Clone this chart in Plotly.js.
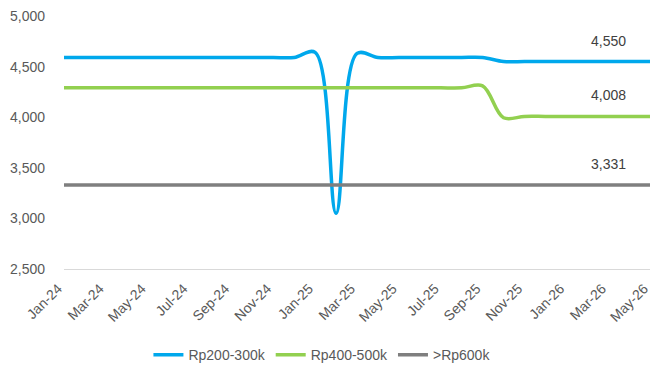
<!DOCTYPE html>
<html>
<head>
<meta charset="utf-8">
<script src="https://cdn.plot.ly/plotly-3.0.1.min.js"></script>
<style>html,body{margin:0;padding:0;background:#fff;}</style>
</head>
<body>
<div id="chart" style="width:651px;height:365px;"></div>
<script>
const months = ["Jan-24","Feb-24","Mar-24","Apr-24","May-24","Jun-24","Jul-24","Aug-24","Sep-24","Oct-24","Nov-24","Dec-24",
  "Jan-25","Feb-25","Mar-25","Apr-25","May-25","Jun-25","Jul-25","Aug-25","Sep-25","Oct-25","Nov-25","Dec-25",
  "Jan-26","Feb-26","Mar-26","Apr-26","May-26"];
const tickLabels = ["Jan-24","Mar-24","May-24","Jul-24","Sep-24","Nov-24","Jan-25","Mar-25","May-25","Jul-25","Sep-25","Nov-25","Jan-26","Mar-26","May-26"];
const rp200_300k = [4590,4590,4590,4590,4590,4590,4590,4590,4590,4590,4590,4590,
  4640,3050,4630,4590,4590,4590,4590,4590,4590,4550,4550,4550,
  4550,4550,4550,4550,4550];
const rp400_500k = [4290,4290,4290,4290,4290,4290,4290,4290,4290,4290,4290,4290,
  4290,4290,4290,4290,4290,4290,4290,4290,4310,3995,4008,4008,
  4008,4008,4008,4008,4008];
const rp600k = [3331,3331,3331,3331,3331,3331,3331,3331,3331,3331,3331,3331,
  3331,3331,3331,3331,3331,3331,3331,3331,3331,3331,3331,3331,
  3331,3331,3331,3331,3331];
const seriesNames = ["Rp200-300k","Rp400-500k",">Rp600k"];
const labelMonth = "Mar-26";
const labelTexts = ["4,550","4,008","3,331"];

const colors = ["#00A8EC","#92D050","#7F7F7F"];
const allSeries = [rp200_300k, rp400_500k, rp600k];

const traces = allSeries.map((vals, i) => ({
  x: months, y: vals, type: "scatter", mode: "lines", name: seriesNames[i],
  line: {color: colors[i], width: 3.5, shape: "spline", smoothing: 1}
}));

const li = months.indexOf(labelMonth);
const annotations = allSeries.map((vals, i) => ({
  x: labelMonth, y: vals[li], xref: "x", yref: "y", text: labelTexts[i],
  showarrow: false, yshift: 21, font: {size: 14, color: "#404040"}
}));

const layout = {
  width: 651, height: 365,
  margin: {l: 64, r: 1, t: 16, b: 96},
  paper_bgcolor: "#fff", plot_bgcolor: "#fff",
  font: {family: "Liberation Sans, Arial, sans-serif", size: 14, color: "#595959"},
  showlegend: true,
  legend: {orientation: "h", xref: "container", yref: "container", x: 0.228, y: 0.027,
    xanchor: "left", yanchor: "middle",
    font: {size: 14, color: "#595959"}, itemwidth: 30},
  xaxis: {type: "category", range: [0, months.length - 1], tickmode: "array",
    tickvals: tickLabels, ticktext: tickLabels, tickangle: -45, automargin: false,
    showgrid: false, zeroline: false, showline: true, linecolor: "#D9D9D9", linewidth: 1,
    ticks: "", ticklabelstandoff: 5, ticklabelshift: -6, fixedrange: true},
  yaxis: {range: [2500, 5000], dtick: 500, tickformat: ",", showgrid: false, zeroline: false,
    showline: false, ticks: "", ticklabelstandoff: 18, automargin: false, fixedrange: true},
  annotations: annotations
};

Plotly.newPlot("chart", traces, layout, {displayModeBar: false, staticPlot: true});
</script>
</body>
</html>
